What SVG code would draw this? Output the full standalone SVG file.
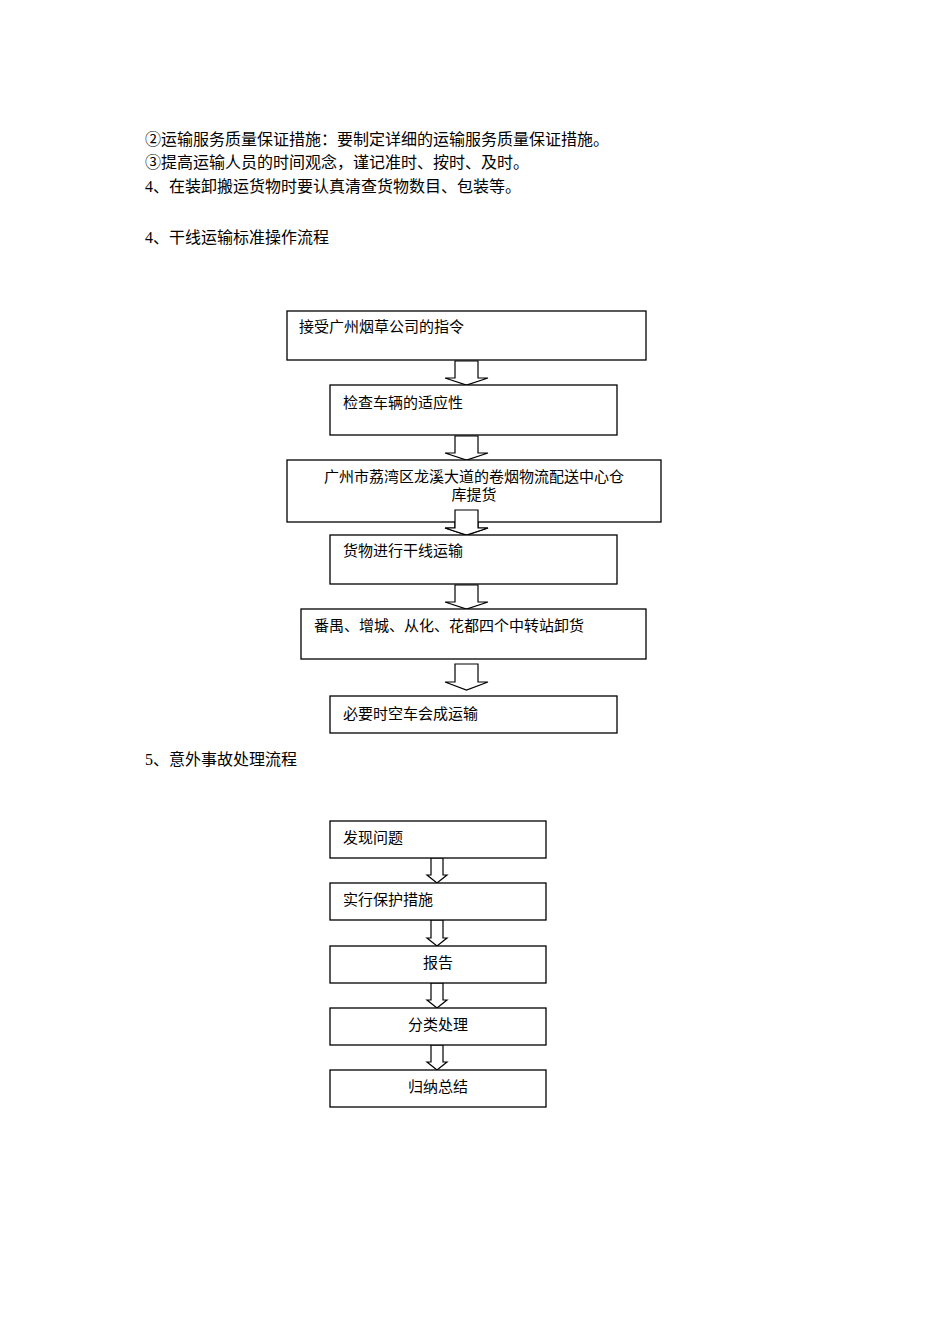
<svg xmlns="http://www.w3.org/2000/svg" width="950" height="1344" viewBox="0 0 950 1344">
<style>
text{font-family:"Liberation Serif","Noto Sans CJK SC",serif;fill:#000}
.t{font-size:16px}
.b{font-size:15px}
rect{fill:#fff;stroke:#000;stroke-width:1.3}
.a{fill:#fff;stroke:#000;stroke-width:1.2}
</style>
<rect x="0" y="0" width="950" height="1344" style="stroke:none"/>
<g id="texts">
<text class="t" x="145" y="145">②运输服务质量保证措施：要制定详细的运输服务质量保证措施。</text>
<text class="t" x="145" y="168">③提高运输人员的时间观念，谨记准时、按时、及时。</text>
<text class="t" x="145" y="192">4、在装卸搬运货物时要认真清查货物数目、包装等。</text>
<text class="t" x="145" y="243">4、干线运输标准操作流程</text>
<text class="t" x="145" y="765">5、意外事故处理流程</text>
</g>
<g id="connectors">
<path class="a" d="M455,361 H478 V378 H488 L466.5,385 L445,378 H455 Z"/>
<path class="a" d="M455,436 H478 V453 H488 L466.5,460 L445,453 H455 Z"/>
<path class="a" d="M455,510 H478 V528 H488 L466.5,535 L445,528 H455 Z"/>
<path class="a" d="M455,585 H478 V602 H488 L466.5,609 L445,602 H455 Z"/>
<path class="a" d="M455,664 H478 V682 H488 L466.5,690 L445,682 H455 Z"/>
<path class="a" d="M431,858 H443 V875 H447 L437,883 L427,875 H431 Z"/>
<path class="a" d="M431,920 H443 V938 H447 L437,946 L427,938 H431 Z"/>
<path class="a" d="M431,983 H443 V1000 H447 L437,1008 L427,1000 H431 Z"/>
<path class="a" d="M431,1045 H443 V1062 H447 L437,1070 L427,1062 H431 Z"/>
</g>
<g id="n1"><rect x="287" y="311" width="359" height="49"/><text class="b" x="299" y="332">接受广州烟草公司的指令</text></g>
<g id="n2"><rect x="330" y="385" width="287" height="50"/><text class="b" x="343" y="408">检查车辆的适应性</text></g>
<g id="n3"><rect x="287" y="460" width="374" height="62"/><text class="b" x="474" y="482" text-anchor="middle">广州市荔湾区龙溪大道的卷烟物流配送中心仓</text><text class="b" x="474" y="500" text-anchor="middle">库提货</text></g>
<path class="a" d="M455,510 H478 V528 H488 L466.5,535 L445,528 H455 Z"/>
<g id="n4"><rect x="330" y="535" width="287" height="49"/><text class="b" x="343" y="556">货物进行干线运输</text></g>
<g id="n5"><rect x="301" y="609" width="345" height="50"/><text class="b" x="314" y="631">番禺、增城、从化、花都四个中转站卸货</text></g>
<g id="n6"><rect x="330" y="696" width="287" height="37"/><text class="b" x="343" y="719">必要时空车会成运输</text></g>
<g id="m1"><rect x="330" y="821" width="216" height="37"/><text class="b" x="343" y="843">发现问题</text></g>
<g id="m2"><rect x="330" y="883" width="216" height="37"/><text class="b" x="343" y="905">实行保护措施</text></g>
<g id="m3"><rect x="330" y="946" width="216" height="37"/><text class="b" x="438" y="968" text-anchor="middle">报告</text></g>
<g id="m4"><rect x="330" y="1008" width="216" height="37"/><text class="b" x="438" y="1030" text-anchor="middle">分类处理</text></g>
<g id="m5"><rect x="330" y="1070" width="216" height="37"/><text class="b" x="438" y="1092" text-anchor="middle">归纳总结</text></g>
</svg>
